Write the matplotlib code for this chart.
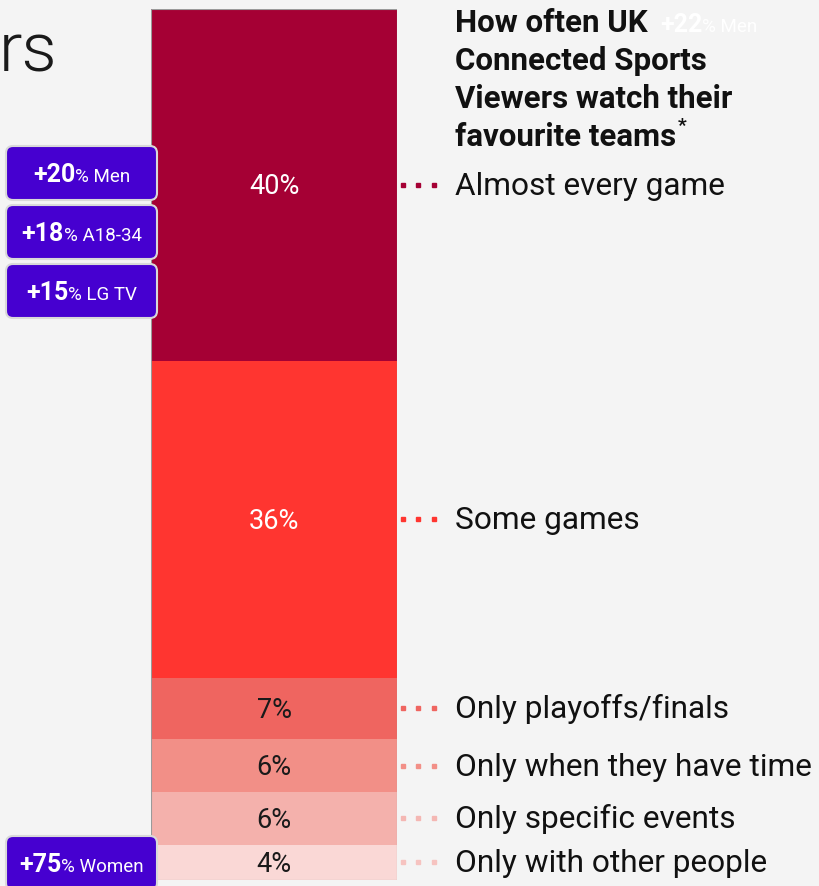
import matplotlib
matplotlib.use("Agg")
import matplotlib.pyplot as plt
import matplotlib.transforms as mtransforms
from matplotlib.patches import FancyBboxPatch

# -- Data ---------------------------------------------------------------
categories = ["Almost every game", "Some games", "Only playoffs/finals",
              "Only when they have time", "Only specific events",
              "Only with other people"]
shares = [40, 36, 7, 6, 6, 4]
seg_colors = ["#a50034", "#ff3530", "#ef6560", "#f28f87", "#f4b1ac", "#fad8d6"]
dot_colors = ["#a50034", "#ff3530", "#ef6560", "#f28f87", "#f4b7b3", "#f6c3c0"]
label_colors = ["white", "white", "#1a1a1a", "#1a1a1a", "#1a1a1a", "#1a1a1a"]

badge_nums = ["+20", "+18", "+15", "+75"]
badge_tags = ["% Men", "% A18-34", "% LG TV", "% Women"]

title_lines = ["How often UK", "Connected Sports", "Viewers watch their",
               "favourite teams"]

# -- Palette -------------------------------------------------------------
_BG = "#f4f4f4"
_FG = "#111111"
_PURPLE = "#4600d0"

plt.rcParams["font.family"] = ["Roboto", "DejaVu Sans"]

W, H = 819, 886
fig = plt.figure(figsize=(W / 100, H / 100), dpi=100, facecolor=_BG)

# stacked bar, top segment first
ax = fig.add_axes([151 / W, (H - 880) / H, 246 / W, 871 / H])
ax.set_facecolor(_BG)
bottoms = [sum(shares[:i]) for i in range(len(shares))]
ax.bar([0] * len(shares), shares, bottom=bottoms, width=1.0,
       color=seg_colors, edgecolor="none")
ax.set_xlim(-0.5, 0.5)
ax.set_ylim(sum(shares), 0)
ax.set_axis_off()
# thin grey outline around the whole bar
ax.add_patch(plt.Rectangle((-0.5, 0), 1.0, sum(shares), fill=False,
                           edgecolor="#9a9a9a", linewidth=0.8, zorder=3))

ytr = ax.get_yaxis_transform()
lbl_tr = mtransforms.offset_copy(ytr, fig=fig, x=0, y=-10, units="dots")
pct_tr = mtransforms.offset_copy(ytr, fig=fig, x=0, y=-9.5, units="dots")

def ax_x(px):
    return (px - 151) / 246

for cat, val, b, dc, lc in zip(categories, shares, bottoms, dot_colors,
                               label_colors):
    mid = b + val / 2
    ax.text(0.5, mid, f"{val}%", transform=pct_tr, ha="center",
            va="baseline", fontsize=19.5, color=lc)
    ax.plot([ax_x(403), ax_x(418), ax_x(434)], [mid] * 3, transform=ytr,
            linestyle="none", marker="s", markersize=2.6, color=dc,
            clip_on=False)
    ax.text(ax_x(455), mid, cat, transform=lbl_tr, ha="left",
            va="baseline", fontsize=22.8, color=_FG, clip_on=False)

# -- Overlay in pixel coordinates for annotations ------------------------
ov = fig.add_axes([0, 0, 1, 1], zorder=5)
ov.set_xlim(0, W)
ov.set_ylim(H, 0)
ov.set_axis_off()
ov.patch.set_alpha(0)

renderer = fig.canvas.get_renderer()

# heading word on the left (cut by the frame in the source)
ov.text(-1, 71, "rs", ha="left", va="baseline", fontsize=50,
        fontweight=300, color="#1a1a1a")

# title
title_baselines = [32, 70, 108, 146]
last = None
for line, yb in zip(title_lines, title_baselines):
    last = ov.text(455, yb, line, ha="left", va="baseline", fontsize=22.5,
                   fontweight="bold", color=_FG)
bb = last.get_window_extent(renderer)
inv = ov.transData.inverted()
x_end = inv.transform((bb.x1, bb.y0))[0]
ov.text(x_end + 2, 131, "*", ha="left", va="baseline", fontsize=14,
        fontweight="bold", color=_FG)

# faint white overlay text next to title
t1 = ov.text(660, 32, "+22", ha="left", va="baseline", fontsize=18,
             fontweight="bold", color="white")
w1 = t1.get_window_extent(renderer).width
ov.text(660 + w1, 32, "% Men", ha="left", va="baseline", fontsize=13.5,
        color="white")

# purple badges
badge_tops = [146, 205, 264, 836]
for num, tag, top in zip(badge_nums, badge_tags, badge_tops):
    ov.add_patch(FancyBboxPatch((6, top), 151, 54,
                                boxstyle="round,pad=0,rounding_size=7",
                                facecolor=_PURPLE, edgecolor="#d9d9d9",
                                linewidth=1.5, clip_on=False))
    base = top + 36
    a = ov.text(0, base, num, ha="left", va="baseline", fontsize=18,
                fontweight="bold", color="white")
    b = ov.text(0, base, tag, ha="left", va="baseline", fontsize=13.5,
                color="white")
    wa = a.get_window_extent(renderer).width
    wb = b.get_window_extent(renderer).width
    x0 = 6 + 151 / 2 - (wa + wb) / 2
    a.set_x(x0)
    b.set_x(x0 + wa)

fig.savefig("out.png", dpi=100, facecolor=_BG)
